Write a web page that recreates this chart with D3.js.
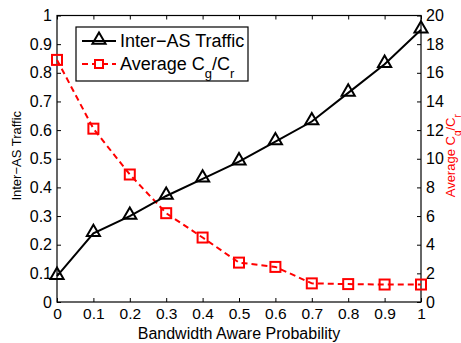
<!DOCTYPE html>
<html>
<head>
<meta charset="utf-8">
<script src="https://cdn.jsdelivr.net/npm/d3@7"></script>
<style>
  body { margin: 0; background: #fff; }
  text { font-family: "Liberation Sans", Arial, sans-serif; }
</style>
</head>
<body>
<svg id="chart" width="461" height="343"></svg>
<script>
// data
var probs = [0, 0.1, 0.2, 0.3, 0.4, 0.5, 0.6, 0.7, 0.8, 0.9, 1];
var interAS = [0.09, 0.24, 0.30, 0.37, 0.43, 0.49, 0.56, 0.63, 0.73, 0.83, 0.95];
var avgRatio = [16.9, 12.1, 8.9, 6.2, 4.5, 2.75, 2.45, 1.3, 1.25, 1.22, 1.22];
var xTicks = [0, 0.1, 0.2, 0.3, 0.4, 0.5, 0.6, 0.7, 0.8, 0.9, 1];
var leftTicks = [0, 0.1, 0.2, 0.3, 0.4, 0.5, 0.6, 0.7, 0.8, 0.9, 1];
var rightTicks = [0, 2, 4, 6, 8, 10, 12, 14, 16, 18, 20];

var svg = d3.select("#chart");
var margin = {top: 15.5, right: 40, bottom: 41, left: 57};
var width = 461 - margin.left - margin.right;
var height = 343 - margin.top - margin.bottom;
var g = svg.append("g").attr("transform", "translate(" + margin.left + "," + margin.top + ")");

var x = d3.scaleLinear().domain([0, 1]).range([0, width]);
var y = d3.scaleLinear().domain([0, 1]).range([height, 0]);
var y2 = d3.scaleLinear().domain([0, 20]).range([height, 0]);

function styleAxis(sel) {
  sel.select(".domain").remove();
  sel.selectAll("line").attr("stroke", "#000");
  sel.selectAll("text").attr("font-size", 16).attr("fill", "#000");
}

// bottom + top ticks
g.append("g")
  .attr("transform", "translate(0," + height + ")")
  .call(d3.axisBottom(x).tickValues(xTicks).tickFormat(d3.format("")).tickSizeInner(-4).tickPadding(6))
  .call(styleAxis)
  .call(s => s.selectAll("text").attr("font-size", 15.5));
g.append("g")
  .call(d3.axisTop(x).tickValues(xTicks).tickSizeInner(-4).tickFormat(""))
  .call(styleAxis);

// left axis
g.append("g")
  .call(d3.axisLeft(y).tickValues(leftTicks).tickFormat(d3.format("")).tickSizeInner(-4).tickPadding(5))
  .call(styleAxis);

// right axis
g.append("g")
  .attr("transform", "translate(" + width + ",0)")
  .call(d3.axisRight(y2).tickValues(rightTicks).tickSizeInner(-4).tickPadding(5))
  .call(styleAxis);

// frame
g.append("rect")
  .attr("width", width).attr("height", height)
  .attr("fill", "none").attr("stroke", "#000").attr("stroke-width", 1.2);

// red dashed series
var redLine = d3.line().x((d, i) => x(probs[i])).y(d => y2(d));
g.append("path").datum(avgRatio)
  .attr("d", redLine)
  .attr("fill", "none").attr("stroke", "#ff0000").attr("stroke-width", 2)
  .attr("stroke-dasharray", "6,4");
g.selectAll(".sq").data(avgRatio).enter().append("rect")
  .attr("x", (d, i) => x(probs[i]) - 5)
  .attr("y", d => y2(d) - 5)
  .attr("width", 10).attr("height", 10)
  .attr("fill", "none").attr("stroke", "#ff0000").attr("stroke-width", 2);

// black series
var blackLine = d3.line().x((d, i) => x(probs[i])).y(d => y(d));
g.append("path").datum(interAS)
  .attr("d", blackLine)
  .attr("fill", "none").attr("stroke", "#000").attr("stroke-width", 2);
var tri = d3.symbol().type(d3.symbolTriangle).size(75);
g.selectAll(".tri").data(interAS).enter().append("path")
  .attr("d", tri)
  .attr("transform", (d, i) => "translate(" + x(probs[i]) + "," + (y(d) - 1) + ")")
  .attr("fill", "none").attr("stroke", "#000").attr("stroke-width", 2);

// axis labels
svg.append("text")
  .attr("x", margin.left + width / 2).attr("y", 339)
  .attr("text-anchor", "middle").attr("font-size", 16)
  .text("Bandwidth Aware Probability");
svg.append("text")
  .attr("transform", "translate(21," + (margin.top + height / 2 - 3) + ") rotate(-90)")
  .attr("text-anchor", "middle").attr("font-size", 13)
  .text("Inter\u2212AS Traffic");
var rl = svg.append("text")
  .attr("transform", "translate(455," + (margin.top + height / 2 - 3) + ") rotate(-90)")
  .attr("text-anchor", "middle").attr("font-size", 13).attr("fill", "#ff0000");
rl.append("tspan").text("Average C");
rl.append("tspan").attr("baseline-shift", "sub").attr("font-size", 10).text("g");
rl.append("tspan").text("/C");
rl.append("tspan").attr("baseline-shift", "sub").attr("font-size", 10).text("r");

// legend
var lg = svg.append("g").attr("transform", "translate(76,27)");
lg.append("rect").attr("width", 172).attr("height", 54)
  .attr("fill", "#fff").attr("stroke", "#000").attr("stroke-width", 1.2);
lg.append("line").attr("x1", 6).attr("x2", 40).attr("y1", 14).attr("y2", 14)
  .attr("stroke", "#000").attr("stroke-width", 2);
lg.append("path").attr("d", tri).attr("transform", "translate(23,13)")
  .attr("fill", "none").attr("stroke", "#000").attr("stroke-width", 2);
lg.append("text").attr("x", 44).attr("y", 20).attr("font-size", 18).text("Inter\u2212AS Traffic");
lg.append("line").attr("x1", 6).attr("x2", 40).attr("y1", 37).attr("y2", 37)
  .attr("stroke", "#ff0000").attr("stroke-width", 2).attr("stroke-dasharray", "6,4");
lg.append("rect").attr("x", 19).attr("y", 33).attr("width", 8).attr("height", 8)
  .attr("fill", "#fff").attr("stroke", "#ff0000").attr("stroke-width", 2);
var lt = lg.append("text").attr("x", 44).attr("y", 43).attr("font-size", 18);
lt.append("tspan").text("Average C");
lt.append("tspan").attr("baseline-shift", "sub").attr("font-size", 13).text("g");
lt.append("tspan").text("/C");
lt.append("tspan").attr("baseline-shift", "sub").attr("font-size", 13).text("r");
</script>
</body>
</html>
